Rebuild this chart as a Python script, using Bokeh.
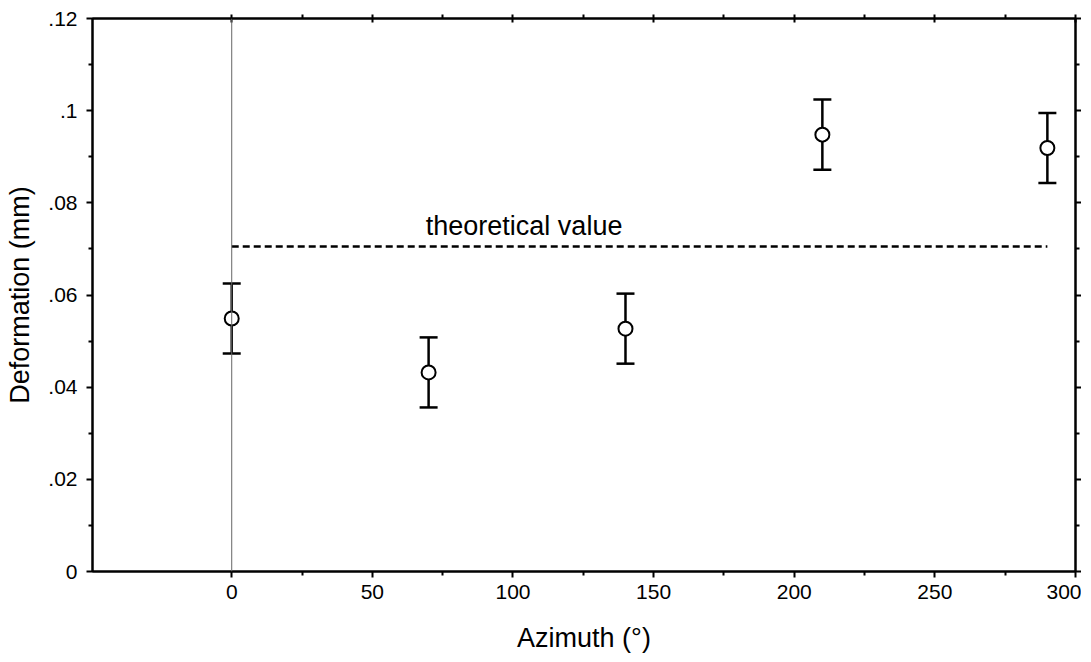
from bokeh.plotting import figure
from bokeh.models import (ColumnDataSource, Whisker, TeeHead, Span, LinearAxis,
                          FixedTicker, CustomJSTickFormatter, Range1d, Label)
from bokeh.embed import file_html
from bokeh.resources import INLINE

azimuth = [0, 70, 140, 210, 290]
deformation = [0.0549, 0.0432, 0.0527, 0.0948, 0.0919]
error = [0.0076, 0.0076, 0.0076, 0.0076, 0.0076]
theory_x = [0, 290]
theory_y = [0.0705, 0.0705]
x_ticks = [0, 50, 100, 150, 200, 250, 300]
x_minor = [25, 75, 125, 175, 225, 275]
y_ticks = [0, 0.02, 0.04, 0.06, 0.08, 0.1, 0.12]
y_minor = [0.01, 0.03, 0.05, 0.07, 0.09, 0.11]

FONT = "Liberation Sans"

src = ColumnDataSource(dict(
    x=azimuth, y=deformation,
    lower=[d - e for d, e in zip(deformation, error)],
    upper=[d + e for d, e in zip(deformation, error)],
))

p = figure(output_backend="svg", toolbar_location=None,
           x_range=Range1d(-49.5, 300), y_range=Range1d(0, 0.12),
           frame_width=983, frame_height=553,
           min_border_left=92, min_border_top=18, min_border_right=4, min_border_bottom=10)
p.grid.visible = False
p.outline_line_color = "black"
p.outline_line_width = 2
p.background_fill_color = "white"
p.border_fill_color = "white"

xt = FixedTicker(ticks=x_ticks, minor_ticks=x_minor)
yt = FixedTicker(ticks=y_ticks, minor_ticks=y_minor)
yfmt = CustomJSTickFormatter(code="""
if (Math.abs(tick) < 1e-9) return "0";
let s = tick.toFixed(2).replace(/0+$/, "");
return s.replace(/^0/, "");
""")
blank = CustomJSTickFormatter(code='return "";')

def style(ax):
    ax.axis_line_width = 2
    ax.axis_line_color = "black"
    ax.major_tick_line_width = 2
    ax.minor_tick_line_width = 2
    ax.major_tick_in = 0
    ax.major_tick_out = 6
    ax.minor_tick_in = 0
    ax.minor_tick_out = 4
    ax.major_label_text_font = FONT
    ax.major_label_text_font_size = "21px"
    ax.major_label_text_color = "black"
    ax.axis_label_text_font = FONT
    ax.axis_label_text_font_size = "27px"
    ax.axis_label_text_font_style = "normal"
    ax.axis_label_text_color = "black"

p.xaxis.ticker = xt
p.yaxis.ticker = yt
p.yaxis.formatter = yfmt
style(p.xaxis[0])
style(p.yaxis[0])
p.xaxis.axis_label = "Azimuth (°)"
p.yaxis.axis_label = "Deformation (mm)"
p.xaxis.major_label_standoff = 7
p.xaxis.axis_label_standoff = 21
p.yaxis.major_label_standoff = 9
p.yaxis.axis_label_standoff = 10

top = LinearAxis(ticker=xt, formatter=blank)
style(top)
top.major_label_standoff = 0
top.major_tick_in = 4
top.major_tick_out = 4
top.minor_tick_in = 0
top.minor_tick_out = 4
p.add_layout(top, "above")

right = LinearAxis(ticker=yt, formatter=blank)
style(right)
right.major_label_standoff = 0
p.add_layout(right, "right")

p.add_layout(Span(location=0, dimension="height", line_color="#666666", line_width=1))

p.line(theory_x, theory_y, line_color="black", line_width=2.5, line_dash="7 4")
p.add_layout(Label(x=69, y=0.0718, text="theoretical value", text_font=FONT,
                   text_font_size="27px", text_color="black"))

p.add_layout(Whisker(source=src, base="x", lower="lower", upper="upper",
                     line_color="black", line_width=2.5,
                     lower_head=TeeHead(size=18, line_width=2.5, line_color="black"),
                     upper_head=TeeHead(size=18, line_width=2.5, line_color="black")))
p.scatter("x", "y", source=src, size=14, fill_color="white", line_color="black",
          line_width=2)

open("out.html", "w").write(file_html(p, INLINE))
